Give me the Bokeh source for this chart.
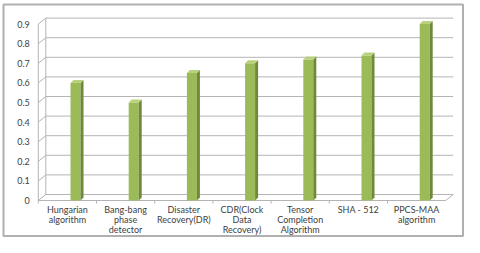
from bokeh.plotting import figure
from bokeh.models import Range1d
from bokeh.core.properties import value
from bokeh.embed import file_html
from bokeh.resources import INLINE

# ---- data ----
categories = ["Hungarian\nalgorithm", "Bang-bang\nphase\ndetector", "Disaster\nRecovery(DR)",
              "CDR(Clock\nData\nRecovery)", "Tensor\nCompletion\nAlgorithm", "SHA - 512",
              "PPCS-MAA\nalgorithm"]
values = [0.6, 0.5, 0.65, 0.7, 0.72, 0.74, 0.9]
y_ticks = [0, 0.1, 0.2, 0.3, 0.4, 0.5, 0.6, 0.7, 0.8, 0.9]
y_tick_labels = ["0", "0.1", "0.2", "0.3", "0.4", "0.5", "0.6", "0.7", "0.8", "0.9"]

# ---- style / geometry constants ----
W, H = 464, 237
PX_X, PX_Y = 58.2, 196.0        # pixels per category / per unit value
X0, Y0 = 37.8, 200.0            # pixel position of category -0.5 and value 0
FONT = value("Lato")
TXT = "#404040"
GRID = "#b4b4b4"
DX, DY = 7.5 / PX_X, 6 / PX_Y   # depth offset of back wall
BOFF, BW = 3.1 / PX_X, 10 / PX_X
SDX, SDY = 3 / PX_X, 3 / PX_Y
FRONT, SIDE, TOP = "#9bbb59", "#6e8a38", "#b8d27c"
LABEL_Y0, LABEL_LH = -9 / PX_Y, 10.2 / PX_Y
YLAB_DX = 8.5 / PX_X


def px_x(px):
    return -0.5 + (px - X0) / PX_X


def px_y(py):
    return (Y0 - py) / PX_Y


n = len(categories)
xc = list(range(n))
left_edge, right_edge = -0.5, n - 0.5

p = figure(width=W, height=H, output_backend="svg", toolbar_location=None,
           x_axis_location=None, y_axis_location=None,
           x_range=Range1d(px_x(0), px_x(W)), y_range=Range1d(px_y(H), px_y(0)),
           min_border=0, background_fill_color="white", border_fill_color="white")
p.title.visible = False
p.grid.visible = False
p.outline_line_color = None

# outer chart border
p.quad(left=[px_x(3)], right=[px_x(W - 1.5)], top=[px_y(4)], bottom=[px_y(H - 1.5)],
       fill_color=None, line_color="#b0b0b0", line_width=2)

# back wall gridlines and side-wall diagonals
gx, gy = [], []
for t in y_ticks:
    if t > 0:
        gx.append([left_edge + DX, right_edge + DX])
        gy.append([t + DY, t + DY])
    gx.append([left_edge, left_edge + DX])
    gy.append([t, t + DY])
# floor
gx += [[left_edge + DX, right_edge + DX], [left_edge, right_edge], [right_edge, right_edge + DX]]
gy += [[DY, DY], [0, 0], [0, DY]]
# side wall verticals
top_t = y_ticks[-1]
gx += [[left_edge, left_edge], [left_edge + DX, left_edge + DX]]
gy += [[0, top_t], [DY, top_t + DY]]
# category boundary ticks
for b in range(n):
    gx.append([b - 0.5, b - 0.5])
    gy.append([0, -3 / PX_Y])
p.multi_line(gx, gy, line_color=GRID, line_width=1)

# bars
lefts = [c + BOFF for c in xc]
rights = [c + BOFF + BW for c in xc]
p.quad(left=lefts, right=rights, bottom=[0] * n, top=values, fill_color=FRONT, line_color=None)
side_xs = [[r, r + SDX, r + SDX, r] for r in rights]
side_ys = [[0, SDY, v + SDY, v] for v in values]
p.patches(side_xs, side_ys, fill_color=SIDE, line_color=None)
top_xs = [[l, r, r + SDX, l + SDX] for l, r in zip(lefts, rights)]
top_ys = [[v, v, v + SDY, v + SDY] for v in values]
p.patches(top_xs, top_ys, fill_color=TOP, line_color=None)

# y tick labels
p.text(x=[left_edge - YLAB_DX] * len(y_ticks), y=y_ticks, text=y_tick_labels,
       text_align="right", text_baseline="middle", text_font=FONT,
       text_font_size="9px", text_color=TXT)

# category labels (one text item per line, centred)
lx, ly, lt = [], [], []
for i, c in zip(xc, categories):
    for j, line in enumerate(c.split("\n")):
        lx.append(i)
        ly.append(LABEL_Y0 - j * LABEL_LH)
        lt.append(line)
p.text(x=lx, y=ly, text=lt, text_align="center", text_baseline="middle",
       text_font=FONT, text_font_size="9px", text_color=TXT)

open("out.html", "w").write(file_html(p, INLINE))
